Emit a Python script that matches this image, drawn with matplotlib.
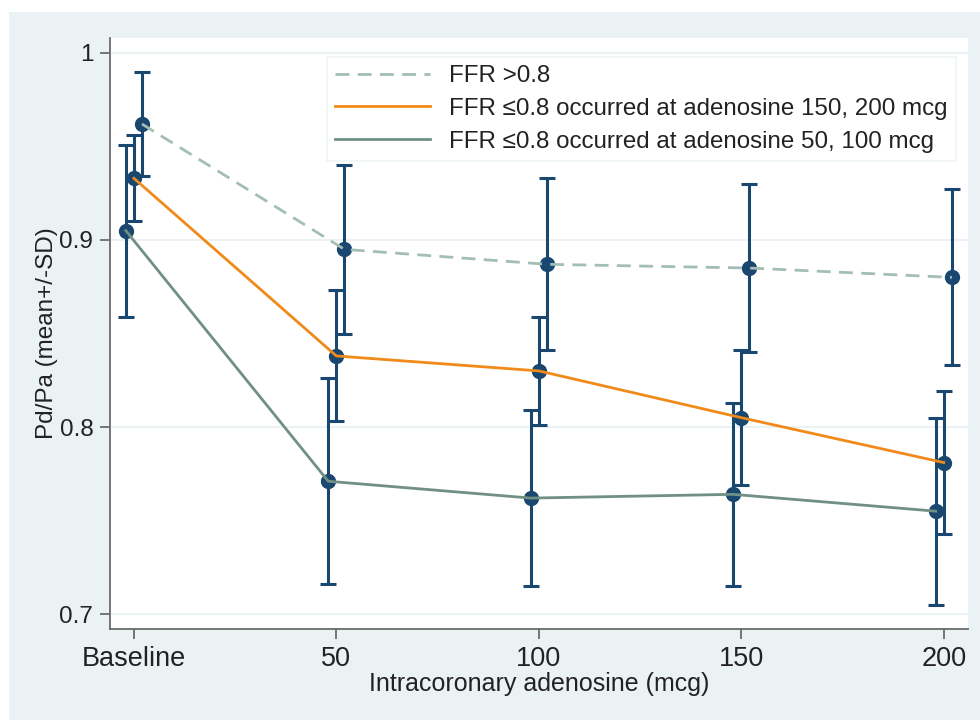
import matplotlib
matplotlib.use("Agg")
import matplotlib.pyplot as plt
import numpy as np
from matplotlib.patches import Rectangle
from matplotlib.lines import Line2D

plt.rcParams['font.family'] = ['Liberation Sans', 'DejaVu Sans']

doses = [0, 50, 100, 150, 200]
x_labels = ["Baseline", "50", "100", "150", "200"]

series_names = ["FFR >0.8",
                "FFR \u22640.8 occurred at adenosine 150, 200 mcg",
                "FFR \u22640.8 occurred at adenosine 50, 100 mcg"]

mean_hi = [0.962, 0.895, 0.887, 0.885, 0.880]
sd_hi = [0.028, 0.045, 0.046, 0.045, 0.047]

mean_late = [0.933, 0.838, 0.830, 0.805, 0.781]
sd_late = [0.023, 0.035, 0.029, 0.036, 0.038]

mean_early = [0.905, 0.771, 0.762, 0.764, 0.755]
sd_early = [0.046, 0.055, 0.047, 0.049, 0.050]

offsets = [2, 0, -2]
means = [mean_hi, mean_late, mean_early]
sds = [sd_hi, sd_late, sd_early]
line_colors = ["#a3beb5", "#f08a1a", "#6f9083"]
line_styles = [(0, (5, 3)), "-", "-"]

navy = "#1a476f"
bg = "#eaf2f3"
txt = "#222222"

fig = plt.figure(figsize=(9.8, 7.2), dpi=100, facecolor="white")
fig.patches.append(Rectangle((9 / 980, 0), 1, 1 - 12 / 720, transform=fig.transFigure,
                             facecolor=bg, edgecolor="none", zorder=-10))

ax = fig.add_axes([110 / 980, 1 - 629 / 720, (968 - 110) / 980, (629 - 38) / 720])
ax.set_facecolor("white")

for m, s, off, col, ls, name in zip(means, sds, offsets, line_colors, line_styles, series_names):
    xs = np.array(doses, dtype=float) + off
    ax.errorbar(xs, m, yerr=s, fmt="none", ecolor=navy, elinewidth=2.2,
                capsize=5.5, capthick=2.2, zorder=3)
    ax.plot(xs, m, "o", color=navy, markersize=10, zorder=4)
    ax.plot(xs, m, linestyle=ls, color=col, linewidth=2.0, zorder=5, label=name)

ax.set_xlim(-5.9, 206)
ax.set_ylim(0.692, 1.008)
ax.set_xticks(doses)
ax.set_xticklabels(x_labels)
ax.set_yticks([0.7, 0.8, 0.9, 1.0])
ax.set_yticklabels(["0.7", "0.8", "0.9", "1"])
ax.grid(axis="y", color=bg, linewidth=1.5, zorder=0)
ax.set_axisbelow(True)

for sp in ["top", "right"]:
    ax.spines[sp].set_visible(False)
for sp in ["left", "bottom"]:
    ax.spines[sp].set_color("#6a6a6a")
    ax.spines[sp].set_linewidth(1.3)

ax.tick_params(axis="x", length=7, width=1.3, color="#6a6a6a", pad=5, labelsize=19.5, labelcolor=txt)
ax.tick_params(axis="y", length=7, width=1.3, color="#6a6a6a", pad=5, labelsize=17.5, labelcolor=txt)

ax.set_xlabel("Intracoronary adenosine (mcg)", fontsize=18, color=txt, labelpad=0)
ax.set_ylabel("Pd/Pa (mean+/-SD)", fontsize=17.5, color=txt, labelpad=1)

handles = [Line2D([0], [0], color=c, linestyle=l, linewidth=2.0) for c, l in zip(line_colors, line_styles)]
leg = ax.legend(handles, series_names, loc="upper right", bbox_to_anchor=(1.0, 0.989),
                fontsize=17.4, frameon=True, fancybox=False, edgecolor=bg,
                handlelength=3.9, handletextpad=0.8, labelspacing=0.45, borderpad=0.35)
leg.get_frame().set_linewidth(1.2)
for t in leg.get_texts():
    t.set_color(txt)

fig.savefig("out.png", dpi=100, facecolor=fig.get_facecolor())
